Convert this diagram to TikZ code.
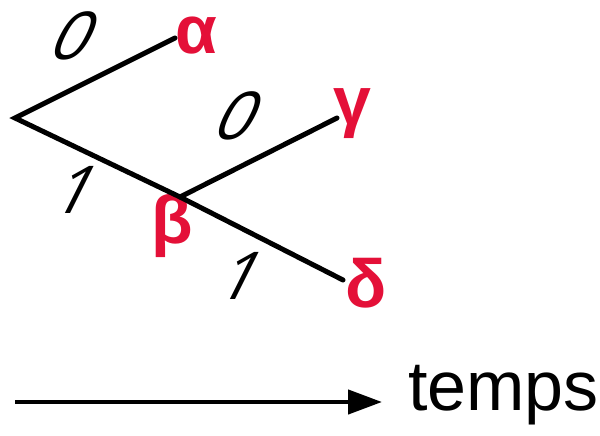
\documentclass[tikz,border=0pt]{standalone}
\usepackage{fontspec}
\setmainfont{Liberation Sans}
\newfontfamily\bitfont{Open Sans}
\usetikzlibrary{arrows.meta,positioning}
\definecolor{leafred}{RGB}{228,16,56}
\tikzset{
myBranch/.style={line width=5pt,black,line cap=round}
, myLeaf/.style={text=leafred,font=\fontsize{68}{68}\selectfont\bfseries,inner sep=0pt}
, myBit/.style={font=\bitfont\fontsize{66}{66}\selectfont,inner sep=0pt,xslant=0.5}
, myTime/.style={line width=4.5pt,-{Triangle[length=34pt,width=24pt]}}
}
\begin{document}
\begin{tikzpicture}[x=1pt,y=-1pt]
	\useasboundingbox (0,0) rectangle (600,436);
	% branch points
	\coordinate (Root) at (15,118);
	\coordinate (EndA) at (175,38);
	\coordinate (Split) at (180,197);
	\coordinate (EndG) at (337,118);
	\coordinate (EndD) at (343,280);
	% leaves
	\node[myLeaf] (Alpha) at (196,36) {α};
	\node[myLeaf] (Beta) at (172,226) {β};
	\node[myLeaf] (Gamma) at (352,114) {γ};
	\node[myLeaf] (Delta) at (366,283) {δ};
	% bits
	\node[myBit] (BitA) at (76,36) {0};
	\node[myBit] (BitB) at (78,190) {1};
	\node[myBit] (BitG) at (240,116) {0};
	\node[myBit] (BitD) at (243,276) {1};
	% links
	\draw[myBranch] (EndA) -- (Root) -- (Split) -- (EndD);
	\draw[myBranch] (Split) -- (EndG);
	% time axis
	\coordinate (TimeStart) at (15,402);
	\node[font=\fontsize{70}{70}\selectfont,anchor=west,inner sep=0pt] (Temps) at (408,395) {temps};
	\draw[myTime] (TimeStart) -- ([xshift=-26pt]Temps.west |- TimeStart);
\end{tikzpicture}
\end{document}
